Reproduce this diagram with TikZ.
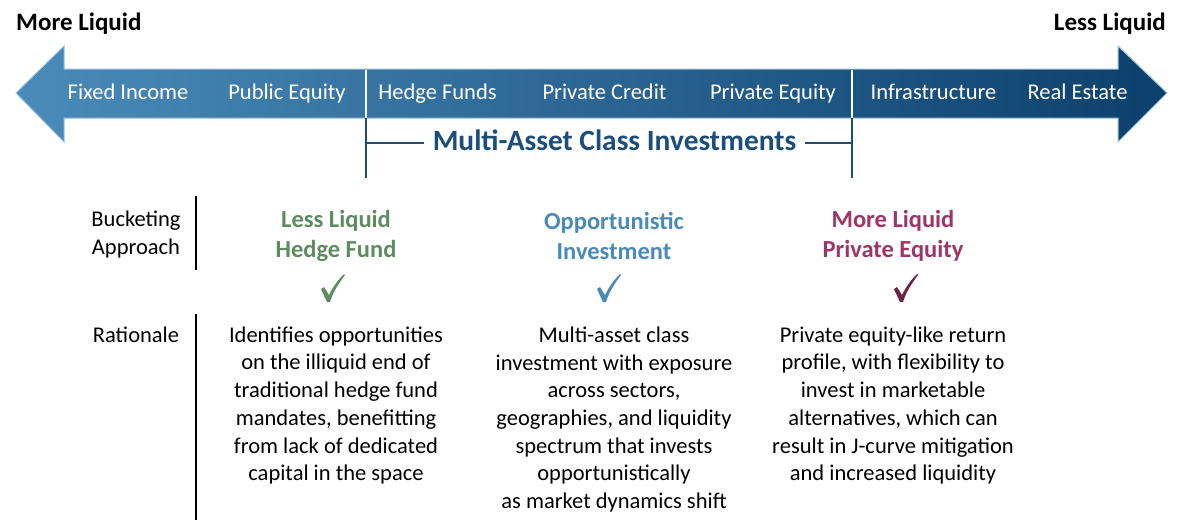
\documentclass[tikz,border=0pt]{standalone}
\usepackage{fontspec}
\setmainfont{Carlito}
\usetikzlibrary{positioning}

\definecolor{arrowleft}{HTML}{4A8BBA}
\definecolor{arrowmid}{HTML}{3572A0}
\definecolor{arrowright}{HTML}{0C406C}
\definecolor{arrowline}{HTML}{9CBFDB}
\definecolor{navy}{HTML}{1B4E7B}
\definecolor{hfgreen}{HTML}{5E8C62}
\definecolor{oppblue}{HTML}{4A8AB8}
\definecolor{peplum}{HTML}{9E3568}
\definecolor{peplumdark}{HTML}{6B2446}

\tikzset{
  endlabel/.style={font=\fontsize{25}{30}\selectfont\bfseries, inner sep=0pt},
  assetlabel/.style={font=\fontsize{22.5}{27}\selectfont, text=white, inner sep=0pt, anchor=base},
  rowlabel/.style={font=\fontsize{22.5}{28}\selectfont, align=center, inner sep=0pt},
  bucket/.style={font=\fontsize{24.5}{30}\selectfont\bfseries, align=center, inner sep=0pt},
  rationale/.style={font=\fontsize{22.5}{27.7}\selectfont, align=center, inner sep=0pt},
  bracket/.style={navy, line width=2pt},
  rowrule/.style={black, line width=2pt},
}

% check mark, colour and position
\newcommand{\drawtick}[2]{%
  \fill[#1, shift={#2}] (-12,1) -- (-9,-1) -- (-4,7)
    .. controls (1,-3) and (6,-9) .. (11,-14) -- (12,-13)
    .. controls (6,-5) and (0,4) .. (-3,14) -- (-6,14) -- cycle;}

\begin{document}
\begin{tikzpicture}[x=1pt, y=-1pt]
    \useasboundingbox (0,0) rectangle (1183,528);

    % liquidity arrow
    \draw[arrowline, line width=1pt, left color=arrowleft, middle color=arrowmid, right color=arrowright]
        (16,93) -- (64,46) -- (64,69) -- (1118,69) -- (1118,46) -- (1167,93)
        -- (1118,142) -- (1118,118) -- (64,118) -- (64,142) -- cycle;
    \draw[white, line width=2pt] (366,69.5) -- (366,117.5);
    \draw[white, line width=2pt] (852,69.5) -- (852,117.5);

    \node[endlabel, anchor=base west] (moreliq) at (16,30) {More Liquid};
    \node[endlabel, anchor=base east] (lessliq) at (1166,30) {Less Liquid};

    \foreach \lbl/\x [count=\i] in {Fixed Income/128, Public Equity/287, Hedge Funds/437.5,
        Private Credit/604.5, Private Equity/773, Infrastructure/933.5, Real Estate/1077.5} {
        \node[assetlabel] (asset\i) at (\x,99) {\lbl};
    }

    % multi-asset bracket
    \node[font=\fontsize{29.4}{33}\selectfont\bfseries, text=navy, inner xsep=9pt, inner ysep=0pt, anchor=base]
        (title) at (614.5,150) {Multi-Asset Class Investments};
    \coordinate (brtopL) at (366,118);
    \coordinate (brbotL) at (366,178);
    \coordinate (brmidL) at (366,143);
    \coordinate (brtopR) at (852,118);
    \coordinate (brbotR) at (852,178);
    \coordinate (brmidR) at (852,143);
    \draw[bracket] (brtopL) -- (brbotL);
    \draw[bracket] (brtopR) -- (brbotR);
    \draw[bracket] (brmidL) -- (brmidL -| title.west);
    \draw[bracket] (brmidR -| title.east) -- (brmidR);

    % row labels
    \node[rowlabel] (bucketing) at (136,234) {Bucketing\\Approach};
    \node[rowlabel] (rationale) at (136,335) {Rationale};
    \draw[rowrule] (196,196) -- (196,270);
    \draw[rowrule] (196,314) -- (196,520);

    % buckets
    \node[bucket, text=hfgreen] (hf) at (336,236) {Less Liquid\\Hedge Fund};
    \node[bucket, text=oppblue] (opp) at (614,236) {Opportunistic\\Investment};
    \node[bucket, text=peplum] (pe) at (893,236) {More Liquid\\Private Equity};

    \drawtick{hfgreen}{(333,288)}
    \drawtick{oppblue}{(609,288)}
    \drawtick{peplumdark}{(906,288)}

    % rationale
    \node[rationale] (hftext) at (336,405.5) {Identifies opportunities\\on the illiquid end of\\traditional hedge fund\\mandates, benefitting\\from lack of dedicated\\capital in the space};
    \node[rationale] (opptext) at (614,419.5) {Multi-asset class\\investment with exposure\\across sectors,\\geographies, and liquidity\\spectrum that invests\\opportunistically\\as market dynamics shift};
    \node[rationale] (petext) at (893,405.5) {Private equity-like return\\profile, with flexibility to\\invest in marketable\\alternatives, which can\\result in J-curve mitigation\\and increased liquidity};
\end{tikzpicture}
\end{document}
